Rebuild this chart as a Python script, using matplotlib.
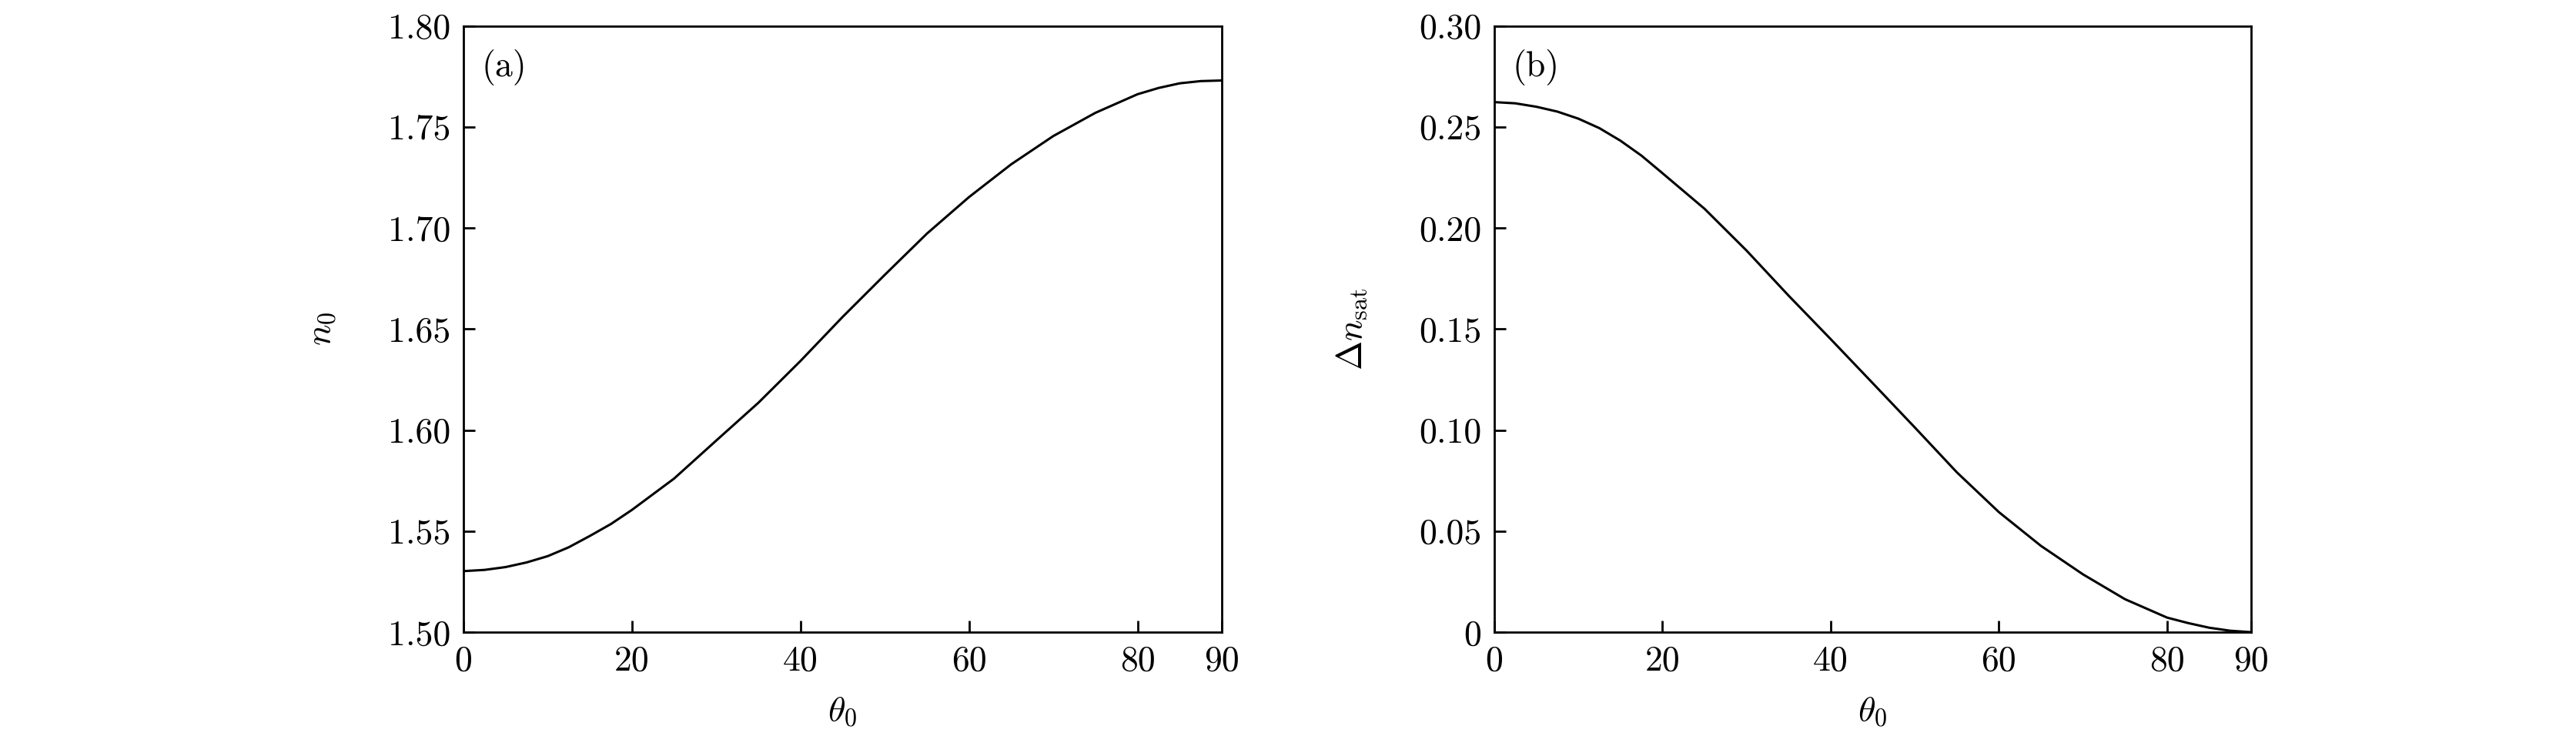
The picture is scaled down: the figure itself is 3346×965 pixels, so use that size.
import matplotlib
matplotlib.use("Agg")
import matplotlib.pyplot as plt
from matplotlib.ticker import FixedLocator

plt.rcParams["font.family"] = "serif"
plt.rcParams["font.serif"] = ["cmr10", "DejaVu Serif"]
plt.rcParams["mathtext.fontset"] = "cm"
plt.rcParams["axes.formatter.use_mathtext"] = True

# values
theta = [0, 2.5, 5, 7.5, 10, 12.5, 15, 17.5, 20, 25, 30, 35, 40, 45, 50, 55, 60, 65,
         70, 75, 80, 82.5, 85, 87.5, 90]
n0 = [1.5302, 1.5308, 1.5322, 1.5345, 1.5376, 1.5420, 1.5476, 1.5535, 1.5605, 1.5760,
      1.5948, 1.6135, 1.6342, 1.6560, 1.6768, 1.6972, 1.7153, 1.7315, 1.7455, 1.7570,
      1.7662, 1.7693, 1.7716, 1.7727, 1.7730]
dn_sat = [0.2623, 0.2617, 0.2600, 0.2576, 0.2541, 0.2494, 0.2432, 0.2358, 0.2271, 0.2095,
          0.1888, 0.1665, 0.1450, 0.1232, 0.1013, 0.0791, 0.0594, 0.0427, 0.0286, 0.0163,
          0.0072, 0.0045, 0.0022, 0.0007, 0.0]

xticks = [0, 20, 40, 60, 80, 90]
yticks_a = [1.50, 1.55, 1.60, 1.65, 1.70, 1.75, 1.80]
ylabels_a = ["1.50", "1.55", "1.60", "1.65", "1.70", "1.75", "1.80"]
yticks_b = [0, 0.05, 0.10, 0.15, 0.20, 0.25, 0.30]
ylabels_b = ["0", "0.05", "0.10", "0.15", "0.20", "0.25", "0.30"]

fs = 33

fig = plt.figure(figsize=(33.46, 9.65), dpi=100)
ax1 = fig.add_axes([0.1799, 0.1492, 0.2944, 0.8159])
ax2 = fig.add_axes([0.5801, 0.1492, 0.2938, 0.8159])

panels = [
    (ax1, n0, (1.5, 1.8), yticks_a, ylabels_a, r"$n_0$", "(a)"),
    (ax2, dn_sat, (0, 0.3), yticks_b, ylabels_b, r"$\Delta n_{\rm sat}$", "(b)"),
]

for ax, y, ylim, yt, yl, ylab, tag in panels:
    ax.plot(theta, y, color="black", lw=2.2)
    ax.set_xlim(0, 90)
    ax.set_ylim(*ylim)
    ax.xaxis.set_major_locator(FixedLocator(xticks))
    ax.set_xticklabels([str(t) for t in xticks])
    ax.yaxis.set_major_locator(FixedLocator(yt))
    ax.set_yticklabels(yl)
    ax.tick_params(direction="in", length=11, width=2, labelsize=fs, pad=12,
                   top=False, right=False)
    for s in ax.spines.values():
        s.set_linewidth(2)
    ax.set_xlabel(r"$\theta_0$", fontsize=fs)
    ax.xaxis.set_label_coords(0.5, -0.105)
    ax.set_ylabel(ylab, fontsize=fs)
    ax.yaxis.set_label_coords(-0.165, 0.5)
    ax.text(0.024, 0.962, tag, transform=ax.transAxes, fontsize=fs,
            ha="left", va="top")

fig.savefig("out.png", dpi=100)
